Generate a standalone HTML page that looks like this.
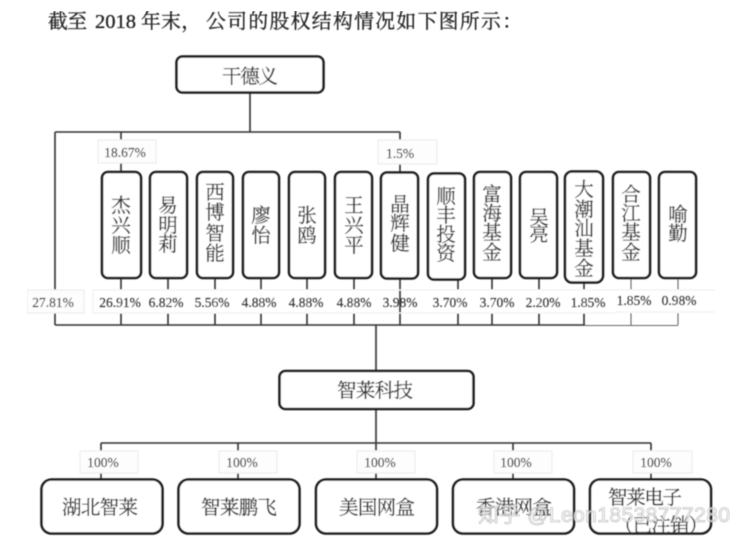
<!DOCTYPE html>
<html>
<head>
<meta charset="utf-8">
<style>
html,body{margin:0;padding:0;background:#fff;width:750px;height:545px;overflow:hidden}
svg{display:block}
text{font-family:"Liberation Serif","Noto Serif CJK SC",serif}
.n{font-size:19.500px;fill:#333;stroke:#333;stroke-width:.3;text-anchor:middle}
.p{font-size:13.500px;fill:#333;stroke:#333;stroke-width:.15;text-anchor:middle}
.box{fill:#fff;stroke:#1c1c1c;stroke-width:2.6}
.lb{fill:#fdfdfd;stroke:#eaeaea;stroke-width:1}
.l{stroke:#333;stroke-width:1.6;fill:none}
.t{font-size:19.800px;fill:#222;stroke:#222;stroke-width:.3}
</style>
</head>
<body>
<svg width="750" height="545" viewBox="0 0 750 545" xmlns="http://www.w3.org/2000/svg">
<defs><filter id="b" x="0" y="0" width="100%" height="100%"><feGaussianBlur stdDeviation="0.4"/></filter></defs>
<g filter="url(#b)">
<text class="t" x="48" y="28" textLength="39">截至</text>
<text class="t" x="95" y="28" style="font-size:20.500px">2018</text>
<text class="t" x="141" y="28" textLength="60">年末，</text>
<text class="t" x="206" y="28" textLength="316">公司的股权结构情况如下图所示：</text>

<path class="l" d="M250 93V132M55 132H400M55 132V325M121 132V172M400 132V172"/>
<path class="l" d="M121 279V325M168 279V325M215 279V325M261 279V325M307 279V325M354 279V325M400 279V325M458 280V325M492 278V325M539 278V325M584 283V325"/>
<path class="l" d="M55 325H585M376 325V371M376 409V443M101 443H651M101 443V479M238 443V479M376 443V479M513 443V479M651 443V479"/>
<path d="M585 325.500H678M631 278V325M678 278V325" stroke="#666" stroke-width="1.1" fill="none"/>

<rect class="lb" x="98" y="140" width="58" height="23"/>
<text class="p" x="125" y="157">18.67%</text>
<rect class="lb" x="378" y="140" width="59" height="24"/>
<text class="p" x="400" y="158">1.5%</text>

<rect class="lb" x="27" y="290" width="57" height="23"/>
<path d="M93 313V290H715M93 313H615M615 312H715" stroke="#eeeeee" fill="none"/>
<path d="M121 290V313M168 290V313M215 290V313M261 290V313M307 290V313M354 290V313M458 290V313M492 290V313M539 290V313M584 290V313M631 290V313M678 290V313" stroke="#fdfdfd" stroke-width="3"/>
<text class="p" x="53" y="307">27.81%</text>
<text class="p" x="120" y="307">26.91%</text>
<text class="p" x="166" y="307">6.82%</text>
<text class="p" x="212" y="307">5.56%</text>
<text class="p" x="259" y="307">4.88%</text>
<text class="p" x="306" y="307">4.88%</text>
<text class="p" x="354" y="307">4.88%</text>
<text class="p" x="400" y="307">3.98%</text>
<text class="p" x="450" y="307">3.70%</text>
<text class="p" x="497" y="307">3.70%</text>
<text class="p" x="543" y="307">2.20%</text>
<text class="p" x="588" y="307">1.85%</text>
<text class="p" x="634" y="305">1.85%</text>
<text class="p" x="679" y="305">0.98%</text>

<rect class="box" x="176.500" y="56.500" width="147" height="36" rx="6"/>
<text class="n" x="250" y="83" textLength="56">干德义</text>

<rect class="box" x="102" y="172" width="39" height="106" rx="6"/>
<text class="n" x="121" y="212">杰</text><text class="n" x="121" y="232">兴</text><text class="n" x="121" y="252">顺</text>
<rect class="box" x="150" y="172" width="37" height="106" rx="6"/>
<text class="n" x="168" y="212">易</text><text class="n" x="168" y="232">明</text><text class="n" x="168" y="251">莉</text>
<rect class="box" x="197" y="172" width="36" height="106" rx="6"/>
<text class="n" x="215" y="199">西</text><text class="n" x="215" y="219">博</text><text class="n" x="215" y="240">智</text><text class="n" x="215" y="260">能</text>
<rect class="box" x="243" y="172" width="36" height="106" rx="6"/>
<text class="n" x="261" y="222">廖</text><text class="n" x="261" y="242">怡</text>
<rect class="box" x="289" y="172" width="36" height="106" rx="6"/>
<text class="n" x="307" y="222">张</text><text class="n" x="307" y="242">鸥</text>
<rect class="box" x="335" y="172" width="37" height="106" rx="6"/>
<text class="n" x="354" y="212">王</text><text class="n" x="354" y="232">兴</text><text class="n" x="354" y="252">平</text>
<rect class="box" x="381" y="172.500" width="37" height="106" rx="6"/>
<text class="n" x="400" y="211">晶</text><text class="n" x="400" y="230">辉</text><text class="n" x="400" y="250">健</text>
<rect class="box" x="428" y="173.500" width="37" height="106" rx="6"/>
<text class="n" x="446" y="203">顺</text><text class="n" x="446" y="222">丰</text><text class="n" x="446" y="241">投</text><text class="n" x="446" y="260">资</text>
<rect class="box" x="474" y="172" width="37" height="106" rx="6"/>
<text class="n" x="492" y="201">富</text><text class="n" x="492" y="220">海</text><text class="n" x="492" y="239">基</text><text class="n" x="492" y="259">金</text>
<rect class="box" x="520" y="172" width="37" height="106" rx="6"/>
<text class="n" x="539" y="224">吴</text><text class="n" x="539" y="241">亮</text>
<rect class="box" x="565" y="171.500" width="38" height="111" rx="7"/>
<text class="n" x="584" y="196">大</text><text class="n" x="584" y="216">潮</text><text class="n" x="584" y="235">汕</text><text class="n" x="584" y="255">基</text><text class="n" x="584" y="275">金</text>
<rect class="box" x="613" y="172" width="37" height="106" rx="6"/>
<text class="n" x="631" y="201">合</text><text class="n" x="631" y="220">江</text><text class="n" x="631" y="239">基</text><text class="n" x="631" y="259">金</text>
<rect class="box" x="659" y="172" width="37" height="106" rx="6"/>
<text class="n" x="678" y="221">喻</text><text class="n" x="678" y="240">勤</text>

<rect class="box" x="279.500" y="371" width="194" height="38" rx="6"/>
<text class="n" x="375" y="397" textLength="76">智莱科技</text>

<rect class="lb" x="80" y="451" width="58" height="22"/><text class="p" x="103" y="467">100%</text>
<rect class="lb" x="219" y="451" width="58" height="22"/><text class="p" x="242" y="467">100%</text>
<rect class="lb" x="357" y="451" width="58" height="22"/><text class="p" x="380" y="467">100%</text>
<rect class="lb" x="494" y="451" width="58" height="22"/><text class="p" x="516" y="467">100%</text>
<rect class="lb" x="633" y="451" width="59" height="22"/><text class="p" x="656" y="467">100%</text>

<rect class="box" x="41.500" y="479.500" width="121" height="54" rx="10"/>
<text class="n" x="100" y="514" textLength="76">湖北智莱</text>
<rect class="box" x="178.500" y="479.500" width="121" height="54" rx="10"/>
<text class="n" x="239" y="514" textLength="76">智莱鹏飞</text>
<rect class="box" x="316" y="479.500" width="121" height="54" rx="10"/>
<text class="n" x="377" y="514" textLength="76">美国网盒</text>
<rect class="box" x="453" y="479.500" width="121" height="54" rx="10"/>
<text class="n" x="514" y="514" textLength="76">香港网盒</text>
<rect class="box" x="590" y="479.500" width="121" height="54" rx="10"/>
<text class="n" x="645" y="504" textLength="74">智莱电子</text>
<text class="n" x="661" y="532" textLength="94">（已注销）</text>

<text x="478" y="522" textLength="252" style="font-family:'Liberation Sans','Noto Sans CJK SC',sans-serif;font-size:21px;fill:#fff;fill-opacity:.75;stroke:#aaa;stroke-width:.6">知乎 @Leon18538777280</text>
</g>
</svg>
</body>
</html>
